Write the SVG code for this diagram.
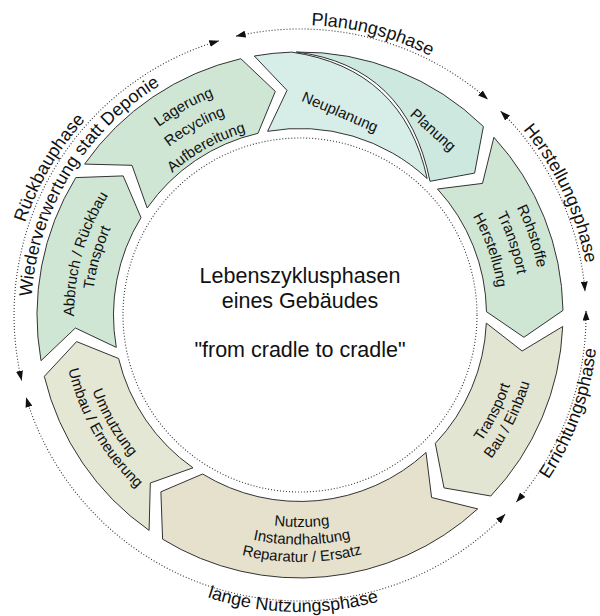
<svg xmlns="http://www.w3.org/2000/svg" xmlns:xlink="http://www.w3.org/1999/xlink" width="600" height="616" viewBox="0 0 600 616">
<style>
.seg{stroke:#333;stroke-width:1;stroke-linejoin:miter}
.g1{fill:#cfe6d4}
.np{fill:#d6ede8}
.pl{fill:#cce8df}
.tb{fill:#e1e5d1}
.nu{fill:#e6e1cd}
.um{fill:#e4e7d4}
.dot{fill:none;stroke:#333;stroke-width:1.1;stroke-dasharray:1 2}
.st{font-family:"Liberation Sans",Arial,sans-serif;font-size:15px;fill:#111}
.ph{font-family:"Liberation Sans",Arial,sans-serif;font-size:18px;fill:#111}
.ct{font-family:"Liberation Sans",Arial,sans-serif;font-size:21.5px;fill:#111;text-anchor:middle}
</style>
<defs>
<marker id="ah" viewBox="0 0 10 7" refX="9.5" refY="3.5" markerWidth="10" markerHeight="7" markerUnits="userSpaceOnUse" orient="auto-start-reverse"><path d="M0,0 L10,3.5 L0,7 Z" fill="#111"/></marker>
<path id="tpPlan" d="M224.9,34.9 A290,290 0 0 1 501.5,106.4"/>
<path id="tpHerst" d="M466.3,77.4 A290,290 0 0 1 588.9,340.3"/>
<path id="tpRueck" d="M10.0,313.0 A290,290 0 0 1 156.8,62.8"/>
<path id="tpWieder" d="M34.1,355.7 A269,269 0 0 1 213.8,60.2"/>
<path id="tpErr" d="M491.5,543.3 A298,298 0 0 0 593.5,263.3"/>
<path id="tpNutz" d="M145.2,568.5 A297,297 0 0 0 442.2,575.8"/>
<path id="la1" d="M88.4,212.7 A235,235 0 0 1 323.8,81.2"/>
<path id="la2" d="M108.2,222.3 A213,213 0 0 1 321.5,103.1"/>
<path id="la3" d="M128.0,231.9 A191,191 0 0 1 319.3,125.0"/>
<path id="ab1" d="M86.6,389.3 A226,226 0 0 1 157.2,139.9"/>
<path id="ab2" d="M103.6,383.4 A208,208 0 0 1 168.5,153.8"/>
<path id="ro1" d="M442.9,119.7 A242,242 0 0 1 532.4,382.5"/>
<path id="ro2" d="M430.5,136.7 A221,221 0 0 1 512.2,376.7"/>
<path id="ro3" d="M417.5,154.4 A199,199 0 0 1 491.1,370.5"/>
<path id="tr1" d="M405.0,510.0 A221.5,221.5 0 0 0 519.2,283.0"/>
<path id="tr2" d="M413.5,525.9 A239.5,239.5 0 0 0 537.0,280.4"/>
<path id="nu1" d="M165.1,478.6 A212,212 0 0 0 437.7,476.2"/>
<path id="nu2" d="M154.0,492.1 A229.5,229.5 0 0 0 449.0,489.5"/>
<path id="nu3" d="M142.9,505.6 A247,247 0 0 0 460.4,502.8"/>
<path id="um1" d="M79.8,295.7 A221,221 0 0 0 206.6,515.3"/>
<path id="um2" d="M62.9,294.2 A238,238 0 0 0 199.4,530.7"/>
</defs>
<rect width="600" height="616" fill="#fff"/>

<g id="connectors">
<circle class="dot" cx="300" cy="315" r="177"/>
<path class="dot" d="M21.6,380.3 A286,286 0 0 1 218.8,40.8" marker-start="url(#ah)" marker-end="url(#ah)"/>
<path class="dot" d="M236.1,36.2 A286,286 0 0 1 487.6,99.2" marker-start="url(#ah)" marker-end="url(#ah)"/>
<path class="dot" d="M500.8,111.4 A286,286 0 0 1 585.0,291.1" marker-start="url(#ah)" marker-end="url(#ah)"/>
<path class="dot" d="M586.0,311.0 A286,286 0 0 1 516.5,501.9" marker-start="url(#ah)" marker-end="url(#ah)"/>
<path class="dot" d="M505.0,514.4 A286,286 0 0 1 26.2,397.7" marker-start="url(#ah)" marker-end="url(#ah)"/>
</g>

<g id="phase-labels">
<text class="ph"><textPath href="#tpPlan" xlink:href="#tpPlan" startOffset="50%" text-anchor="middle">Planungsphase</textPath></text>
<text class="ph"><textPath href="#tpHerst" xlink:href="#tpHerst" startOffset="50%" text-anchor="middle">Herstellungsphase</textPath></text>
<text class="ph"><textPath href="#tpErr" xlink:href="#tpErr" startOffset="50%" text-anchor="middle">Errichtungsphase</textPath></text>
<text class="ph"><textPath href="#tpNutz" xlink:href="#tpNutz" startOffset="50%" text-anchor="middle">lange Nutzungsphase</textPath></text>
<text class="ph"><textPath href="#tpRueck" xlink:href="#tpRueck" startOffset="50%" text-anchor="middle">Rückbauphase</textPath></text>
<text class="ph"><textPath href="#tpWieder" xlink:href="#tpWieder" startOffset="50%" text-anchor="middle">Wiederverwertung statt Deponie</textPath></text>
</g>

<g id="node-umnutzung">
<path class="seg um" d="M149.1,530.4 A263,263 0 0 1 44.3,376.4 L76.6,341.6 L118.6,358.5 A186.5,186.5 0 0 0 193.0,467.8 L150.3,483.0 Z"/>
<text class="st"><textPath href="#um1" xlink:href="#um1" startOffset="50%" text-anchor="middle">Umnutzung</textPath></text>
<text class="st"><textPath href="#um2" xlink:href="#um2" startOffset="50%" text-anchor="middle">Umbau / Erneuerung</textPath></text>
</g>

<g id="node-abbruch">
<path class="seg g1" d="M41.0,360.7 A263,263 0 0 1 75.8,177.6 L123.2,175.9 L141.0,217.6 A186.5,186.5 0 0 0 116.3,347.4 L75.4,328.0 Z"/>
<text class="st"><textPath href="#ab1" xlink:href="#ab1" startOffset="50%" text-anchor="middle">Abbruch / Rückbau</textPath></text>
<text class="st"><textPath href="#ab2" xlink:href="#ab2" startOffset="50%" text-anchor="middle">Transport</textPath></text>
</g>

<g id="node-lagerung">
<path class="seg g1" d="M84.6,164.1 A263,263 0 0 1 240.8,58.7 L275.3,91.4 L258.0,133.3 A186.5,186.5 0 0 0 147.2,208.0 L132.0,165.3 Z"/>
<text class="st"><textPath href="#la1" xlink:href="#la1" startOffset="50%" text-anchor="middle">Lagerung</textPath></text>
<text class="st"><textPath href="#la2" xlink:href="#la2" startOffset="50%" text-anchor="middle">Recycling</textPath></text>
<text class="st"><textPath href="#la3" xlink:href="#la3" startOffset="50%" text-anchor="middle">Aufbereitung</textPath></text>
</g>

<g id="node-neuplanung">
<path class="seg np" d="M254.3,56.0 A263,263 0 0 1 291.7,52.1 Q403.1,68.6 427.2,178.6 A186.5,186.5 0 0 0 267.6,131.3 L287.0,90.4 Z"/>
<text class="st" text-anchor="middle" transform="translate(340,112) rotate(23)" y="5">Neuplanung</text>
</g>

<g id="node-planung">
<path class="seg pl" d="M296.3,52.0 A263,263 0 0 1 483.4,126.5 L474.6,173.1 L430.0,181.3 Q407,66 296.3,52.0 Z"/>
<text class="st" text-anchor="middle" transform="translate(433,130) rotate(42)" y="5">Planung</text>
</g>

<g id="node-rohstoffe">
<path class="seg g1" d="M493.9,137.3 A263,263 0 0 1 563.0,310.4 L523.9,337.3 L486.5,311.7 A186.5,186.5 0 0 0 437.5,189.0 L482.5,183.4 Z"/>
<text class="st"><textPath href="#ro1" xlink:href="#ro1" startOffset="50%" text-anchor="middle">Rohstoffe</textPath></text>
<text class="st"><textPath href="#ro2" xlink:href="#ro2" startOffset="50%" text-anchor="middle">Transport</textPath></text>
<text class="st"><textPath href="#ro3" xlink:href="#ro3" startOffset="50%" text-anchor="middle">Herstellung</textPath></text>
</g>

<g id="node-transport">
<path class="seg tb" d="M562.7,326.5 A263,263 0 0 1 490.8,496.0 L444.0,487.9 L435.3,443.4 A186.5,186.5 0 0 0 486.3,323.1 L522.1,351.0 Z"/>
<text class="st"><textPath href="#tr1" xlink:href="#tr1" startOffset="50%" text-anchor="middle">Transport</textPath></text>
<text class="st"><textPath href="#tr2" xlink:href="#tr2" startOffset="50%" text-anchor="middle">Bau / Einbau</textPath></text>
</g>

<g id="node-nutzung">
<path class="seg nu" d="M477.7,508.9 A263,263 0 0 1 162.6,539.2 L160.9,491.8 L202.6,474.0 A186.5,186.5 0 0 0 426.0,452.5 L431.6,497.5 Z"/>
<text class="st"><textPath href="#nu1" xlink:href="#nu1" startOffset="50%" text-anchor="middle">Nutzung</textPath></text>
<text class="st"><textPath href="#nu2" xlink:href="#nu2" startOffset="50%" text-anchor="middle">Instandhaltung</textPath></text>
<text class="st"><textPath href="#nu3" xlink:href="#nu3" startOffset="50%" text-anchor="middle">Reparatur / Ersatz</textPath></text>
</g>

<g id="node-center">
<text class="ct" x="300" y="283">Lebenszyklusphasen</text>
<text class="ct" x="300" y="308">eines Gebäudes</text>
<text class="ct" x="300" y="357">"from cradle to cradle"</text>
</g>
</svg>
